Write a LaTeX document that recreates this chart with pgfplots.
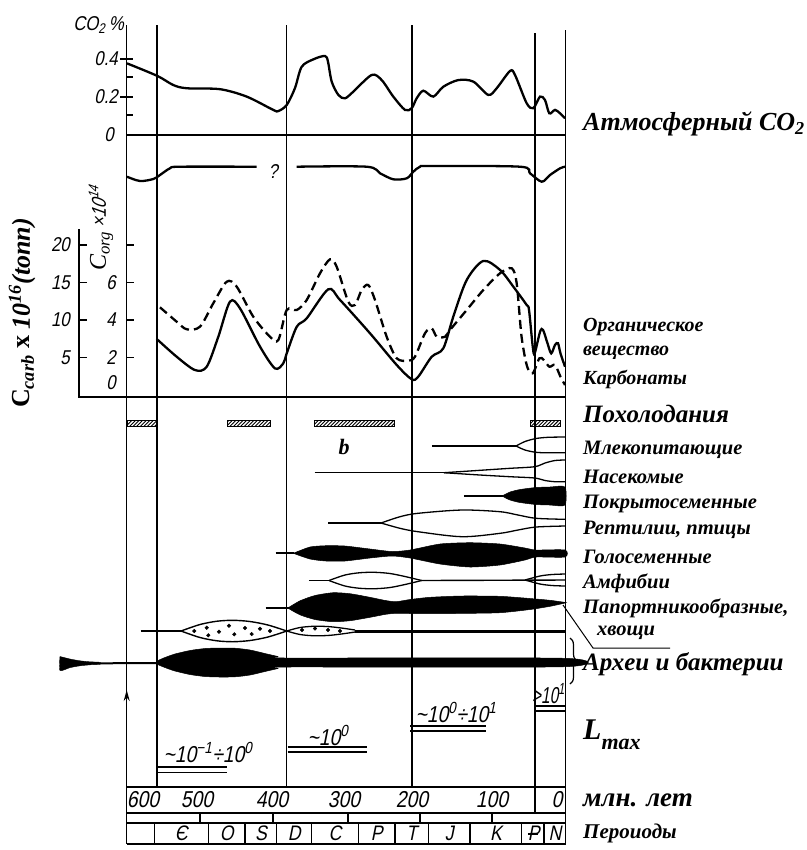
\documentclass[border=0pt]{standalone}
\usepackage{pgfplots}
\pgfplotsset{compat=1.18}
\usetikzlibrary{patterns,arrows.meta,decorations.pathreplacing}
\usepackage{fontspec}
\setmainfont{Liberation Serif}
\newfontfamily\gost{Liberation Sans}[FakeSlant=0.2, FakeStretch=0.84]
\pgfdeclarepatternformonly{myhatch}{\pgfqpoint{-1pt}{-1pt}}{\pgfqpoint{5pt}{5pt}}{\pgfqpoint{3.6pt}{3.6pt}}{\pgfsetlinewidth{0.9pt}\pgfpathmoveto{\pgfqpoint{0pt}{0pt}}\pgfpathlineto{\pgfqpoint{3.7pt}{3.7pt}}\pgfusepath{stroke}}
\pgfplotsset{ov/.style={scale only axis, width=807bp, height=850bp, at={(0,0)}, anchor=north west, hide axis, clip=false, xmin=-331.507, xmax=773.973, x dir=reverse}}
\begin{document}
\begin{tikzpicture}[x=1bp,y=-1bp,
  g/.style={font=\gost\fontsize{20bp}{22bp}\selectfont, inner sep=0pt},
  gt/.style={font=\gost\fontsize{23bp}{25bp}\selectfont, inner sep=0pt},
  gl/.style={font=\gost\fontsize{23bp}{25bp}\selectfont, inner sep=0pt},
  r/.style={font=\bfseries\itshape\fontsize{20.5bp}{23bp}\selectfont, anchor=west, inner sep=0pt},
  fr/.style={line width=1.3bp}]
\useasboundingbox (0,0) rectangle (807,850);

% ---------- frame lines ----------
\draw[fr] (126.7,25) -- (126.7,844);
\draw[fr] (157,25) -- (157,787);
\draw[fr] (286.7,25) -- (286.7,787);
\draw[fr] (412,25) -- (412,787);
\draw[fr] (535,33) -- (535,813);
\draw[fr] (565.5,30) -- (565.5,844);
% CO2 axis
\draw[fr] (126.7,135) -- (565.5,135);
\foreach \yy in {59,97} \draw[fr] (120,\yy) -- (133,\yy);
\foreach \yy in {77,115} \draw[fr] (127,\yy) -- (133,\yy);
% C axes
\draw[fr] (79,229) -- (79,397) -- (565.5,397);
\foreach \yy in {245,282.5,320,357.5} {\draw[fr] (79,\yy) -- (87,\yy); \draw[fr] (126.7,\yy) -- (134,\yy);}
% time boxes
\foreach \yy in {787,813,823,844} \draw[fr] (126.7,\yy) -- (565.5,\yy);
\foreach \xx in {200,273,348,420,492} \draw[fr] (\xx,813) -- (\xx,823);
\foreach \xx in {154.3,208.3,245,276.7,311.7,358.3,395,428.3,470,521.7,544} \draw[fr] (\xx,823) -- (\xx,844);
% Lmax double lines
\draw[line width=1.8bp] (156.7,766.7) -- (226.7,766.7);
\draw[line width=1.2bp] (156.7,772.7) -- (226.7,772.7);
\draw[line width=1.8bp] (287.7,747.3) -- (366.7,747.3);
\draw[line width=1.2bp] (287.7,752) -- (366.7,752);
\draw[line width=1.8bp] (410,726) -- (486,726);
\draw[line width=1.2bp] (410,731) -- (486,731);
\draw[line width=1.8bp] (535,706) -- (565.5,706);
\draw[line width=1.2bp] (535,711) -- (565.5,711);
% arrow
\draw[fr, -{Stealth[length=11bp,width=6bp]}] (126.7,710) -- (126.7,690);
% leader, brace
\draw[line width=1bp] (563,605) -- (593,648) -- (670,648);
\draw[decorate, decoration={brace, amplitude=7bp}, line width=1.2bp] (570,638) -- (570,684);

% ---------- CO2 ----------
\begin{axis}[ov, ymin=-3.76316, ymax=0.710526]
\addplot[line width=2.3bp, smooth, tension=0.5] coordinates {
(600,0.377)(558.5,0.311)(536.6,0.263)(518.2,0.246)(472.6,0.241)(436.0,0.202)(399.6,0.132)(392.7,0.126)
(381.2,0.158)(369.9,0.247)(360.7,0.359)(344.8,0.398)(328.8,0.416)(324.7,0.386)(319.6,0.281)(310.5,0.211)
(301.4,0.193)(290.0,0.228)(264.8,0.316)(251.1,0.289)(235.2,0.202)(219.2,0.132)(210.0,0.141)(203.2,0.193)
(194.1,0.233)(180.4,0.202)(166.7,0.254)(146.2,0.289)(125.6,0.281)(105.1,0.211)(93.6,0.246)(75.3,0.337)
(68.5,0.316)(52.5,0.167)(43.4,0.141)(34.2,0.202)(27.4,0.184)(21.5,0.114)(13.7,0.132)(6.8,0.114)(0,0.088)};
\end{axis}

% ---------- C org (solid) ----------
\begin{axis}[ov, ymin=-24.2667, ymax=21.0667]
\addplot[line width=2.3bp, smooth, tension=0.5] coordinates {
(559.3,2.99)(531.9,2.04)(506.8,1.33)(490.8,1.51)(474.9,3.11)(458.9,4.98)(445.2,4.62)(417.8,2.58)
(397.3,1.42)(385.9,1.69)(381.2,2.22)(367.5,3.64)(353.8,4.09)(324.2,5.64)(308.2,5.07)(267.1,3.29)
(230.5,1.60)(210.0,0.84)(201.0,0.98)(182.6,2.04)(166.7,2.49)(153.0,4.18)(134.7,6.13)(111.9,7.15)
(89.0,6.67)(70.8,5.78)(52.5,4.80)(49.3,4.53)(44.2,2.58)(41.6,2.22)(34.1,3.38)(30.1,3.47)
(24.0,2.76)(18.9,2.22)(13.7,2.67)(9.6,2.76)(6.2,2.22)(0,1.51)};
\end{axis}

% ---------- C carb (dashed) ----------
\begin{axis}[ov, ymin=-60.6667, ymax=52.6667]
\addplot[line width=2.3bp, dash pattern=on 9bp off 5bp, smooth, tension=0.5] coordinates {
(554.8,11.69)(531.9,9.77)(518.2,8.76)(500.0,9.11)(481.8,12.23)(463.4,15.11)(449.7,14.44)(427.0,10.44)
(404.1,7.77)(392.7,7.33)(381.2,11.33)(367.5,11.33)(353.8,12.67)(335.6,16.23)(321.9,18.09)(312.8,17.11)
(296.9,12.44)(287.7,12.0)(278.5,14.0)(269.5,14.67)(260.3,12.67)(244.3,7.77)(230.5,4.89)(214.7,4.57)
(205.5,5.11)(191.8,8.23)(182.6,8.89)(175.7,7.77)(164.4,7.77)(157.5,8.67)(134.7,11.33)(111.9,14.0)
(89.0,16.23)(73.0,16.89)(66.2,14.89)(59.5,7.77)(51.8,3.77)(44.2,2.89)(35.1,4.89)(29.0,4.67)
(21.4,3.77)(13.7,4.0)(6.2,2.44)(0,1.33)};
\end{axis}

% ---------- frame axis: Ma vs pixel rows ----------
\begin{axis}[ov, ymin=0, ymax=850, y dir=reverse]
% second curve with ?
\addplot[line width=2.3bp, smooth, tension=0.5] coordinates {(600,176.7)(582.2,181)(563.9,179)(554.8,175)(541.1,168.3)(527.4,166.7)(422.3,166.7)};
\addplot[line width=2.3bp, smooth, tension=0.5] coordinates {(367.5,166.7)(271.6,166.7)(253.4,173.3)(235.2,179.3)(216.8,178.3)(207.8,171.7)(198.6,166.7)(184.9,166)(61.6,166.7)(47.9,173.3)(31.9,181.7)(20.5,175)(6.8,168.3)(0,166.7)};
% cooling bars
\addplot[draw=black, line width=0.9bp, pattern=myhatch] coordinates {(600,420)(560.3,420)(560.3,426)(600,426)(600,420)};
\addplot[draw=black, line width=0.9bp, pattern=myhatch] coordinates {(462.3,420)(404.1,420)(404.1,426)(462.3,426)(462.3,420)};
\addplot[draw=black, line width=0.9bp, pattern=myhatch] coordinates {(343.1,420)(234.3,420)(234.3,426)(343.1,426)(343.1,420)};
\addplot[draw=black, line width=0.9bp, pattern=myhatch] coordinates {(47.9,420)(6.2,420)(6.2,426)(47.9,426)(47.9,420)};
% mammals
\addplot[line width=1.4bp] coordinates {(182.2,446)(67.1,446)};
\addplot[line width=1.3bp, smooth] coordinates {(67.1,446)(54.8,441.5)(39.7,438.5)(23.3,437.3)(0,437)};
\addplot[line width=1.3bp, smooth] coordinates {(67.1,446)(54.8,450)(39.7,452.3)(23.3,452.8)(0,452.7)};
% insects
\addplot[line width=1.4bp] coordinates {(343.1,472.7)(165.8,472.7)};
\addplot[line width=1.3bp, smooth] coordinates {(165.8,472.7)(116.4,470.3)(75.3,468.3)(41.6,466.7)(27.4,463)(13.7,460.5)(0,460)};
\addplot[line width=1.3bp, smooth] coordinates {(165.8,472.7)(116.4,475)(75.3,476.7)(41.6,478)(27.4,480.5)(13.7,481.7)(0,481.7)};
% angiosperms
\addplot[line width=1.4bp] coordinates {(138.4,496)(84.9,496)};
\addplot[fill=black, draw=black, line width=0.5bp, smooth, tension=0.4] coordinates {(84.9,495.5)(75.3,492)(61.6,489.5)(39.7,487.5)(20.5,487)(0,487)(0,505)(20.5,505)(39.7,504.5)(61.6,502.5)(75.3,500)(84.9,496.5)(84.9,495.5)};
% reptiles, birds
\addplot[line width=1.4bp] coordinates {(324,523)(252,523)};
\addplot[line width=1.3bp, smooth] coordinates {(252,523)(226,516.7)(201.4,513.3)(141.1,510)(89,511.7)(64.4,515)(39.7,518.3)(0,519.3)};
\addplot[line width=1.3bp, smooth] coordinates {(252,523)(226,528.3)(201.4,531.7)(141.1,536.7)(89,533.3)(64.4,530)(39.7,527)(0,526)};
% gymnosperms
\addplot[line width=1.4bp] coordinates {(396.4,553)(371.2,553)};
\addplot[fill=black, draw=black, line width=0.5bp, smooth, tension=0.4] coordinates {(371.2,553)(349.3,547)(327.4,545.7)(301.4,546)(267.1,549)(237,551.5)(212.3,550)(171.2,544)(130.1,542.7)(89,544)(54.8,548)(39.7,550)(0,550)
(0,557)(39.7,557)(54.8,560)(89,565)(130.1,567)(171.2,564)(212.3,558)(237,556)(267.1,558)(301.4,561)(327.4,561)(349.3,559)(371.2,553.5)(371.2,553)};
% amphibians
\addplot[line width=1.4bp] coordinates {(350.7,580.5)(323.3,580.5)};
\addplot[line width=1.3bp, smooth] coordinates {(323.3,580.5)(301.4,575)(280.8,572.7)(260.3,572.3)(239.7,573.5)(219.2,576.5)(196.3,580.5)};
\addplot[line width=1.3bp, smooth] coordinates {(323.3,580.5)(301.4,586)(280.8,588.3)(260.3,588.7)(239.7,587.5)(219.2,584.5)(196.3,580.5)};
\addplot[line width=1.4bp] coordinates {(196.3,580.5)(0,580)};
\addplot[line width=1.3bp, smooth] coordinates {(54.8,580)(34.2,576)(17.8,574.5)(0,574)};
\addplot[line width=1.3bp, smooth] coordinates {(54.8,580)(34.2,584)(17.8,585.5)(0,586)};
% ferns, horsetails
\addplot[line width=1.4bp] coordinates {(410.2,608)(378.6,608)};
\addplot[fill=black, draw=black, line width=0.5bp, smooth, tension=0.4] coordinates {(378.6,607.5)(363.0,600.8)(342.5,595.5)(317.8,592.7)(294.5,593.7)(267.1,597.3)(246.6,600.4)(231.5,601.7)(212.3,599.5)(184.9,597.3)(141.1,596)(89.0,596.3)(47.9,598.5)(20.5,600.3)(0,602.4)
(0,603)(20.5,606.3)(47.9,609.5)(89.0,612.7)(141.1,613.4)(184.9,613.7)(212.3,613.5)(231.5,613.3)(246.6,614.4)(267.1,617.3)(294.5,620.7)(317.8,621.7)(342.5,619.5)(363.0,614.8)(378.6,608.5)(378.6,607.5)};
% dotted group
\addplot[line width=1.4bp] coordinates {(581.4,631)(526,631)};
\addplot[line width=1.4bp, smooth] coordinates {(526,631)(500,624.5)(476.7,621.2)(454.8,620.3)(431.5,621.5)(406.9,625)(381.2,631)};
\addplot[line width=1.4bp, smooth] coordinates {(526,631)(500,637.5)(476.7,640.8)(454.8,641.7)(431.5,640.5)(406.9,637)(381.2,631)};
\addplot[line width=1.3bp, smooth] coordinates {(381.2,631)(363,627.5)(342.5,626.2)(321.9,626.7)(301.4,628.5)(287.7,630)};
\addplot[line width=1.3bp, smooth] coordinates {(381.2,631)(363,634.5)(342.5,635.8)(321.9,635.3)(301.4,633.5)(287.7,632)};
\addplot[line width=3bp] coordinates {(287.7,631)(0,631)};
\addplot[only marks, mark=*, mark size=1.8bp] coordinates {(507.8,631)(490.8,627.7)(488.6,635.3)(474.0,631.7)(460.3,625.7)(453.0,634.3)(438.4,628)(429.2,634)(417.8,628.7)(404.1,631)(360.3,630)(342.5,628.5)(324.7,630)(308.2,631)};
% archaea and bacteria
\addplot[fill=black, draw=black, line width=0.4bp, smooth, tension=0.4] coordinates {(691.8,656.5)(678.1,659)(664.4,660.8)(650.7,661.8)(637,662.3)(637,664.3)(650.7,664.8)(664.4,665.8)(678.1,667.6)(691.8,670.5)(691.8,656.5)};
\addplot[line width=2bp] coordinates {(637,663.3)(559,663)};
\addplot[fill=black, draw=black, line width=0.5bp, smooth, tension=0.4] coordinates {(559.0,661)(548.0,657.5)(534.3,654)(513.7,650.5)(493.1,648.5)(472.6,648)(452.1,648.2)(431.5,650)(411.0,653.5)(393.1,656.5)(381.2,658)(0,658.3)
(0,666.7)(381.2,667)(393.1,668.5)(411.0,671.5)(431.5,675)(452.1,676.8)(472.6,677)(493.1,676.5)(513.7,674.5)(534.3,671)(548.0,667.5)(559.0,664)(559.0,661)};
\end{axis}

% ---------- texts ----------
\node[g, anchor=east] at (124,25) {CO\textsubscript{2}\,\%};
\node[g, anchor=east] at (118,59) {0.4};
\node[g, anchor=east] at (118,97) {0.2};
\node[g, anchor=east] at (114,135) {0};
\node[g] at (273,172) {?};
\foreach \yy/\tt in {245/20,282.5/15,320/10,357.5/5} \node[g, anchor=east] at (70,\yy) {\tt};
\foreach \yy/\tt in {282.5/6,320/4,357.5/2,383/0} \node[g, anchor=east] at (116,\yy) {\tt};
\node[rotate=90, inner sep=0pt] at (101,228) {\fontsize{24bp}{26bp}\selectfont\itshape C\textsubscript{org}\,{\gost\fontsize{20bp}{22bp}\selectfont ×10\textsuperscript{14}}};
\node[rotate=90, inner sep=0pt] at (22,313) {\fontsize{26bp}{28bp}\selectfont\bfseries C\textsubscript{\itshape carb} x {\itshape 10\textsuperscript{16}(tonn)}};
% time row
\node[gt] at (143,800) {600};
\node[gt] at (197,800) {500};
\node[gt] at (272,800) {400};
\node[gt] at (344,800) {300};
\node[gt] at (412,800) {200};
\node[gt] at (492,800) {100};
\node[gt] at (557,800) {0};
% periods
\foreach \xx/\tt in {181.3/Є,226.7/O,261/S,294.2/D,335/C,376.7/P,411.7/T,449.2/J,495.9/K} \node[g, font=\gost\fontsize{21bp}{23bp}\selectfont] at (\xx,833.5) {\tt};
\node[g, font=\gost\fontsize{21bp}{23bp}\selectfont] at (555,833.5) {N};
\node[g, font=\gost\fontsize{21bp}{23bp}\selectfont] at (533,833.5) {\rlap{P}\raisebox{0.28em}{\rule{0.5em}{0.07em}}};
% Lmax values
\node[gl] at (208,752) {\textasciitilde10\textsuperscript{−1}÷10\textsuperscript{0}};
\node[gl] at (328,735) {\textasciitilde10\textsuperscript{0}};
\node[gl] at (456,712) {\textasciitilde10\textsuperscript{0}÷10\textsuperscript{1}};
\node[gl, anchor=east] at (565,694) {\scalebox{0.8}[1]{>10\textsuperscript{1}}};
\node[font=\bfseries\itshape\fontsize{22bp}{24bp}\selectfont, inner sep=0pt] at (344,447) {b};
% right labels
\node[r, font=\bfseries\itshape\fontsize{26bp}{28bp}\selectfont] at (583,124) {Атмосферный CO\textsubscript{2}};
\node[r, font=\bfseries\itshape\fontsize{20bp}{22bp}\selectfont] at (583,327) {Органическое};
\node[r, font=\bfseries\itshape\fontsize{20bp}{22bp}\selectfont] at (583,353) {вещество};
\node[r, font=\bfseries\itshape\fontsize{20bp}{22bp}\selectfont] at (583,379) {Карбонаты};
\node[r, font=\bfseries\itshape\fontsize{25bp}{27bp}\selectfont] at (583,414) {Похолодания};
\node[r] at (583,450) {Млекопитающие};
\node[r] at (583,477) {Насекомые};
\node[r] at (583,504) {Покрытосеменные};
\node[r] at (583,530) {Рептилии, птицы};
\node[r] at (583,557) {Голосеменные};
\node[r] at (583,583) {Амфибии};
\node[r] at (583,608) {Папортникообразные,};
\node[r] at (597,633) {хвощи};
\node[r, font=\bfseries\itshape\fontsize{25bp}{27bp}\selectfont] at (583,664) {Археи и бактерии};
\node[r, font=\bfseries\itshape\fontsize{30bp}{32bp}\selectfont] at (583,735) {L\raisebox{-0.35em}{\fontsize{22bp}{24bp}\selectfont max}};
\node[r, font=\bfseries\itshape\fontsize{27bp}{29bp}\selectfont] at (583,800) {млн. лет};
\node[r, font=\bfseries\itshape\fontsize{21bp}{23bp}\selectfont] at (583,833) {Пероиоды};
\end{tikzpicture}
\end{document}
